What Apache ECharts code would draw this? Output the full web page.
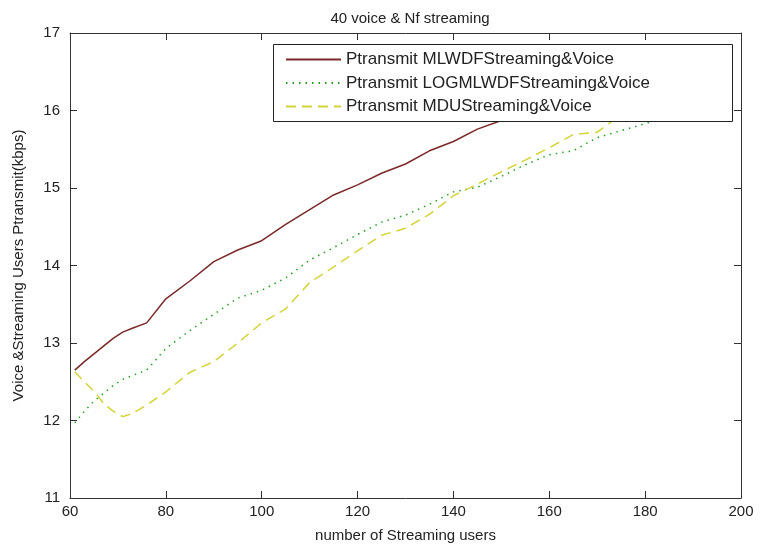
<!DOCTYPE html>
<html>
<head>
<meta charset="utf-8">
<script src="https://cdn.jsdelivr.net/npm/echarts@6/dist/echarts.min.js"></script>
<style>
  html, body { margin: 0; padding: 0; background: #fff; }
  #chart { width: 760px; height: 550px; }
</style>
</head>
<body>
<div id="chart"></div>
<script>
// number of streaming users
const users = [61, 63, 65, 67, 69, 71, 73, 76, 80, 85, 90, 95, 100, 105, 110, 115, 120, 125, 130, 135, 140, 145, 150, 155, 160, 165, 170, 175, 180, 185]

// Ptransmit (kbps)
const mlwdf = [12.65, 12.76, 12.86, 12.96, 13.06, 13.14, 13.19, 13.26, 13.57, 13.80, 14.05, 14.20, 14.32, 14.53, 14.72, 14.91, 15.04, 15.19, 15.31, 15.48, 15.60, 15.76, 15.87, 15.98, 16.08, 16.18, 16.28, 16.37, 16.46, 16.55]
const logmlwdf = [11.97, 12.12, 12.25, 12.35, 12.45, 12.53, 12.58, 12.65, 12.93, 13.16, 13.37, 13.58, 13.68, 13.84, 14.07, 14.23, 14.40, 14.56, 14.65, 14.79, 14.95, 15.01, 15.15, 15.30, 15.43, 15.48, 15.65, 15.74, 15.83, 15.93]
const mdu = [12.63, 12.50, 12.38, 12.22, 12.12, 12.05, 12.09, 12.20, 12.37, 12.62, 12.76, 13.00, 13.26, 13.44, 13.78, 13.98, 14.19, 14.39, 14.48, 14.66, 14.90, 15.05, 15.21, 15.36, 15.52, 15.69, 15.72, 15.95, 16.02, 16.10]

const seriesNames = ['Ptransmit MLWDFStreaming&Voice', 'Ptransmit LOGMLWDFStreaming&Voice', 'Ptransmit MDUStreaming&Voice']

const pairs = ys => users.map((x, i) => [x, ys[i]])

const font = 'Liberation Sans, Arial, sans-serif'
const axisCommon = {
  axisLine: { lineStyle: { color: '#333', width: 1 } },
  axisTick: { inside: true, length: 7, lineStyle: { color: '#333' } },
  splitLine: { show: false }
}

const chart = echarts.init(document.getElementById('chart'))
chart.setOption({
  animation: false,
  backgroundColor: '#fff',
  title: {
    text: '40 voice & Nf streaming',
    left: 405,
    textAlign: 'center',
    top: 6,
    textStyle: { fontFamily: font, fontSize: 15, fontWeight: 'normal', color: '#222' }
  },
  grid: { left: 70, right: 19, top: 33, bottom: 52 },
  // legend frame
  graphic: [{
    type: 'rect',
    z: 8,
    shape: { x: 273.5, y: 44.5, width: 459, height: 77 },
    style: { fill: '#fff', stroke: '#222', lineWidth: 1 }
  }],
  legend: {
    orient: 'vertical',
    left: 273,
    top: 48,
    padding: [3, 10, 3, 12],
    itemGap: 6.5,
    itemWidth: 55,
    itemHeight: 17,
    z: 10,
    itemStyle: { opacity: 0 },
    textStyle: { fontFamily: font, fontSize: 17, color: '#222' },
    data: seriesNames
  },
  xAxis: [
    Object.assign({
      type: 'value', min: 60, max: 200, interval: 20,
      name: 'number of Streaming users',
      nameLocation: 'middle', nameGap: 30,
      nameTextStyle: { fontFamily: font, fontSize: 15, color: '#222' },
      axisLabel: { fontFamily: font, fontSize: 15, color: '#222', margin: 6 }
    }, axisCommon),
    Object.assign({
      type: 'value', min: 60, max: 200, interval: 20, position: 'top',
      axisLabel: { show: false }
    }, axisCommon)
  ],
  yAxis: [
    Object.assign({
      type: 'value', min: 11, max: 17, interval: 1,
      name: 'Voice &Streaming Users Ptransmit(kbps)',
      nameLocation: 'middle', nameGap: 44, nameRotate: 90,
      nameTextStyle: { fontFamily: font, fontSize: 15, color: '#222' },
      axisLabel: { fontFamily: font, fontSize: 15, color: '#222', margin: 10 }
    }, axisCommon),
    Object.assign({
      type: 'value', min: 11, max: 17, interval: 1, position: 'right',
      axisLabel: { show: false }
    }, axisCommon)
  ],
  series: [
    {
      name: seriesNames[0], type: 'line', symbol: 'none',
      data: pairs(mlwdf),
      lineStyle: { color: '#7a2828', width: 1.5, type: 'solid' },
      itemStyle: { color: '#7a2828' }
    },
    {
      name: seriesNames[1], type: 'line', symbol: 'none',
      data: pairs(logmlwdf),
      lineStyle: { color: '#22a022', width: 1.5, type: [1.5, 5] },
      itemStyle: { color: '#22a022' }
    },
    {
      name: seriesNames[2], type: 'line', symbol: 'none',
      data: pairs(mdu),
      lineStyle: { color: '#d4d43a', width: 1.5, type: [10, 6] },
      itemStyle: { color: '#d4d43a' }
    }
  ]
})
</script>
</body>
</html>
